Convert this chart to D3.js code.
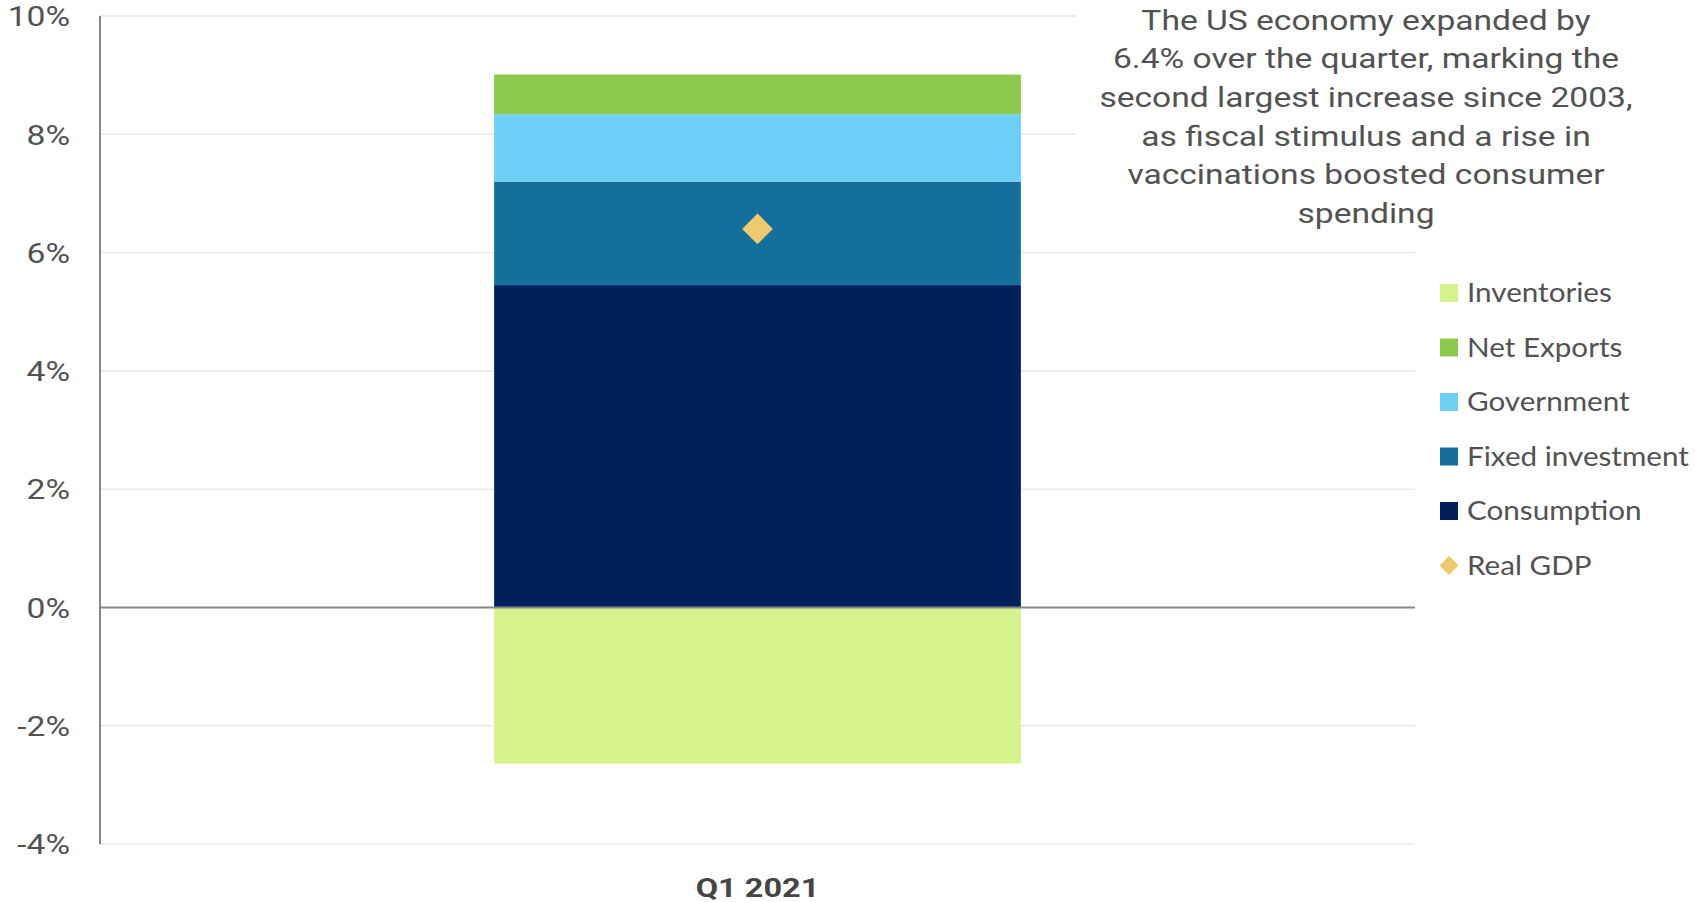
<!DOCTYPE html>
<html>
<head>
<meta charset="utf-8">
<script src="https://cdn.jsdelivr.net/npm/d3@7"></script>
<style>
  html, body { margin: 0; padding: 0; background: #ffffff; }
  svg { display: block; }
</style>
</head>
<body>
<svg id="chart" width="1695" height="902"></svg>
<script>
// Contributions to real GDP growth, percentage points
const categories = ["Q1 2021"];
const components = ["Consumption", "Fixed investment", "Government", "Net Exports", "Inventories"];
const consumption = [5.45];
const fixedInvestment = [1.75];
const government = [1.14];
const netExports = [0.67];
const inventories = [-2.64];
const realGDP = [6.4];
const yTicks = [-4, -2, 0, 2, 4, 6, 8, 10];
const legendItems = ["Inventories", "Net Exports", "Government", "Fixed investment", "Consumption", "Real GDP"];
const noteLines = [
  "The US economy expanded by",
  "6.4% over the quarter, marking the",
  "second largest increase since 2003,",
  "as fiscal stimulus and a rise in",
  "vaccinations boosted consumer",
  "spending"
];

const colors = {
  "Inventories": "#d6f28c",
  "Net Exports": "#8bc84b",
  "Government": "#6dcff6",
  "Fixed investment": "#156f9c",
  "Consumption": "#001f5b",
  "Real GDP": "#f0c96c"
};

const seriesValues = {
  "Consumption": consumption,
  "Fixed investment": fixedInvestment,
  "Government": government,
  "Net Exports": netExports,
  "Inventories": inventories
};

const rows = categories.map((c, i) => {
  const r = { category: c };
  components.forEach(k => { r[k] = seriesValues[k][i]; });
  return r;
});

const svg = d3.select("#chart");
const plotLeft = 100, plotRight = 1415, plotTop = 16, plotBottom = 844;
const textWiden = 1.2;   // labels are set slightly wide

const y = d3.scaleLinear().domain([-4, 10]).range([plotBottom, plotTop]);
const x = d3.scaleBand().domain(categories).range([plotLeft, plotRight]).padding(0.428);

const textColor = "#525252";

// horizontal gridlines
svg.append("g")
  .selectAll("line")
  .data(yTicks.filter(t => t !== 0))
  .join("line")
  .attr("x1", plotLeft).attr("x2", plotRight)
  .attr("y1", d => y(d)).attr("y2", d => y(d))
  .attr("stroke", "#e8e8e8")
  .attr("stroke-width", 1.5);

// stacked bars (positive stack above zero, negative below)
const stack = d3.stack()
  .keys(components)
  .offset(d3.stackOffsetDiverging);
const stacked = stack(rows);

svg.append("g")
  .selectAll("g")
  .data(stacked)
  .join("g")
  .attr("fill", d => colors[d.key])
  .selectAll("rect")
  .data(d => d)
  .join("rect")
  .attr("x", d => x(d.data.category))
  .attr("width", x.bandwidth())
  .attr("y", d => y(Math.max(d[0], d[1])))
  .attr("height", d => Math.abs(y(d[0]) - y(d[1])));

// y axis line and zero line
svg.append("line")
  .attr("x1", plotLeft).attr("x2", plotLeft)
  .attr("y1", plotTop).attr("y2", plotBottom)
  .attr("stroke", "#878787").attr("stroke-width", 2);
svg.append("line")
  .attr("x1", plotLeft).attr("x2", plotRight)
  .attr("y1", y(0)).attr("y2", y(0))
  .attr("stroke", "#878787").attr("stroke-width", 2);

// y tick labels
const yAxis = d3.axisLeft(y).tickValues(yTicks).tickSize(0).tickPadding(0)
  .tickFormat(d => d + "%");
const yAxisG = svg.append("g")
  .attr("transform", `translate(70,0)`)
  .call(yAxis);
yAxisG.select(".domain").remove();
yAxisG.selectAll("text")
  .attr("x", 0)
  .attr("font-family", "Roboto, sans-serif")
  .attr("font-size", 28)
  .attr("fill", textColor)
  .attr("dy", "0.35em")
  .attr("transform", `scale(${textWiden},1)`);

// category label
const xAxis = d3.axisBottom(x).tickSize(0).tickPadding(0);
const xAxisG = svg.append("g")
  .attr("transform", `translate(0,${plotBottom})`)
  .call(xAxis);
xAxisG.select(".domain").remove();
xAxisG.selectAll("text")
  .attr("font-family", "Roboto, sans-serif")
  .attr("font-size", 26)
  .attr("font-weight", "bold")
  .attr("fill", "#454545")
  .attr("y", 0)
  .attr("dy", 0)
  .attr("transform", `translate(0,53) scale(1.25,1)`);

// real GDP marker
const diamond = d3.symbol().type(d3.symbolSquare).size(470);
svg.append("g")
  .selectAll("path")
  .data(categories.map((c, i) => ({ category: c, value: realGDP[i] })))
  .join("path")
  .attr("d", diamond)
  .attr("transform", d => `translate(${x(d.category) + x.bandwidth() / 2},${y(d.value)}) rotate(45)`)
  .attr("fill", colors["Real GDP"]);

// annotation box
svg.append("rect")
  .attr("x", 1076).attr("y", 0)
  .attr("width", 580).attr("height", 232)
  .attr("fill", "#ffffff");
const noteX = 1366;
svg.append("g")
  .attr("transform", `translate(${noteX},0) scale(${textWiden},1)`)
  .append("text")
  .attr("font-family", "Roboto, sans-serif")
  .attr("font-size", 28)
  .attr("fill", textColor)
  .attr("text-anchor", "middle")
  .selectAll("tspan")
  .data(noteLines)
  .join("tspan")
  .attr("x", 0)
  .attr("y", (d, i) => 29.6 + i * 38.7)
  .text(d => d);

// legend
const legend = svg.append("g").attr("transform", "translate(1440,0)");
const legendRows = legend.selectAll("g")
  .data(legendItems)
  .join("g")
  .attr("transform", (d, i) => `translate(0,${293 + i * 54.5})`);
legendRows.filter(d => d !== "Real GDP")
  .append("rect")
  .attr("x", 0).attr("y", -9)
  .attr("width", 18).attr("height", 18)
  .attr("fill", d => colors[d]);
legendRows.filter(d => d === "Real GDP")
  .append("path")
  .attr("d", d3.symbol().type(d3.symbolSquare).size(180))
  .attr("transform", "translate(9,0) rotate(45)")
  .attr("fill", colors["Real GDP"]);
legendRows.append("text")
  .attr("transform", "translate(27,0) scale(1.14,1)")
  .attr("dy", "0.35em")
  .attr("font-family", "Lato, sans-serif")
  .attr("font-size", 26)
  .attr("fill", textColor)
  .text(d => d);
</script>
</body>
</html>
